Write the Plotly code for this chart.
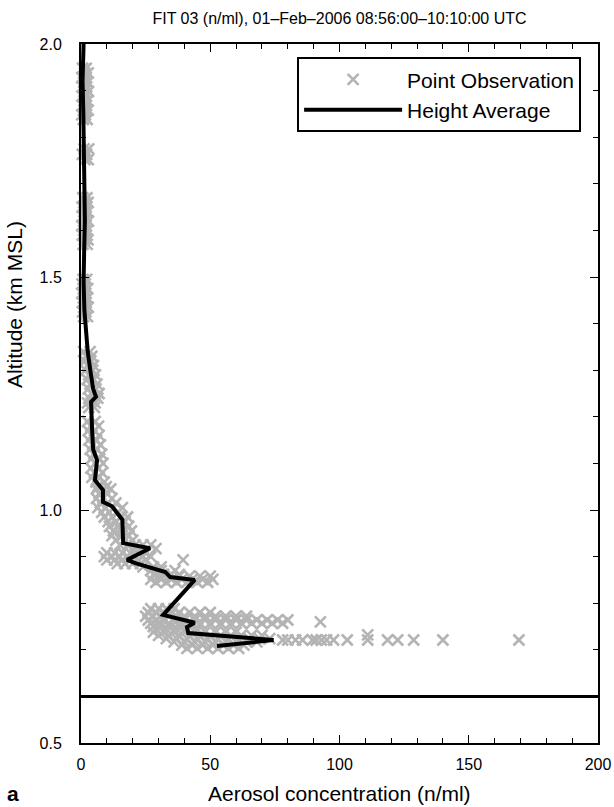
import plotly.graph_objects as go

# ---------------- data ----------------
title_text = "FIT 03 (n/ml), 01\u2013Feb\u20132006 08:56:00\u201310:10:00 UTC"
x_title = "Aerosol concentration (n/ml)"
y_title = "Altitude (km MSL)"
panel_label = "a"

x_ticks = [0, 50, 100, 150, 200]
y_ticks = [0.5, 1.0, 1.5, 2.0]
y_tick_labels = ["0.5", "1.0", "1.5", "2.0"]

surface_altitude = 0.6  # horizontal reference line (km)

# Height-averaged profile
avg_conc = [1.0, 0.6, 0.9, 1.3, 1.5, 1.2, 1.0, 1.3, 1.9, 2.6, 3.6, 4.7, 5.8, 3.9,
            4.3, 4.7, 6.2, 5.4, 8.5, 8.5, 12.0, 16.0, 16.3, 26.7, 17.8, 21.0,
            32.6, 34.5, 44.0, 31.8, 44.0, 41.0, 41.5, 74.5, 52.6]
avg_alt = [2.0, 1.92, 1.85, 1.72, 1.62, 1.55, 1.49, 1.43, 1.38, 1.34, 1.30, 1.26,
           1.243, 1.232, 1.17, 1.13, 1.107, 1.064, 1.043, 1.017, 1.008, 0.979,
           0.929, 0.918, 0.893, 0.886, 0.867, 0.856, 0.850, 0.775, 0.758, 0.749,
           0.736, 0.721, 0.708]

# Point observations, grouped by altitude rows: (altitude km, [concentrations])
obs_rows_upper = [
    (1.948, [0.6, 2.0]), (1.938, [1.4, 2.8]), (1.928, [0.3, 1.9]), (1.918, [1.0, 2.6]),
    (1.908, [0.5, 2.2]), (1.898, [1.3, 2.9]), (1.888, [0.4, 1.8]), (1.878, [1.1, 2.5]),
    (1.868, [0.6, 2.1]), (1.858, [1.4, 2.8]), (1.848, [0.3, 1.7]), (1.838, [0.9, 2.4]),
    (1.775, [1.2, 3.0]), (1.763, [0.5, 2.2]), (1.752, [1.5, 2.8]),
    (1.670, [0.7, 2.3]), (1.660, [1.5, 2.8]), (1.650, [0.4, 1.9]), (1.640, [1.1, 2.6]),
    (1.630, [0.6, 2.0]), (1.620, [1.4, 2.9]), (1.610, [0.3, 1.7]), (1.600, [1.0, 2.5]),
    (1.590, [0.5, 2.1]), (1.580, [1.3, 2.7]), (1.570, [0.8, 2.4]),
    (1.495, [0.8, 2.2]), (1.485, [0.4, 1.6]), (1.475, [1.2, 2.6]), (1.465, [0.3, 1.8]),
    (1.455, [0.9, 2.4]), (1.445, [0.5, 2.0]), (1.435, [1.3, 2.8]), (1.425, [0.6, 1.9]),
    (1.415, [1.0, 2.5]),
]
obs_rows_middle = [
    (1.340, [1.0, 3.5]), (1.330, [2.0, 4.2]), (1.320, [1.5, 3.8]), (1.310, [2.6, 4.8]),
    (1.300, [1.8, 4.5]), (1.290, [3.0, 5.6]), (1.280, [2.4, 5.0]), (1.270, [3.5, 6.2]),
    (1.260, [2.8, 5.8]), (1.250, [4.0, 7.0]), (1.240, [3.2, 6.5]), (1.230, [2.5, 5.5]),
    (1.220, [3.0, 5.2]),
    (1.190, [2.5, 5.5]), (1.180, [3.8, 6.8]), (1.170, [2.8, 5.2]), (1.160, [4.2, 7.0]),
    (1.150, [3.0, 6.0]), (1.140, [4.5, 7.5]), (1.130, [3.5, 6.2]), (1.120, [5.0, 8.0]),
    (1.110, [4.0, 7.2]), (1.100, [5.5, 8.5]), (1.090, [3.8, 6.8]), (1.080, [5.2, 8.2]),
    (1.070, [4.2, 7.0]), (1.060, [5.8, 9.0]), (1.050, [6.5, 9.8]),
    (1.045, [6.0, 9.0, 11.5]), (1.035, [7.0, 10.0]), (1.025, [6.0, 8.5, 12.0]),
    (1.015, [7.5, 10.5, 13.5]), (1.005, [6.5, 9.5, 12.5, 16.0]),
    (0.995, [8.0, 11.0, 14.5]), (0.985, [9.0, 12.0, 15.5, 18.0]),
    (0.975, [10.5, 13.5, 17.0]), (0.965, [11.0, 14.0, 18.5]),
    (0.955, [12.5, 15.5, 19.5]), (0.945, [12.0, 16.0, 18.5]),
    (0.935, [13.5, 17.0, 20.0]), (0.925, [15.0, 18.0, 21.0, 24.0, 27.0]),
    (0.917, [22.0, 29.0]),
]
obs_rows_lower = [
    (0.908, [10, 13, 16, 19, 22, 25]),
    (0.900, [9, 12, 15, 18, 21, 24, 27]),
    (0.893, [10, 13, 16, 19, 22, 25, 39.5]),
    (0.885, [14, 17, 20, 23]),
    (0.878, [24, 28, 31]),
    (0.870, [27, 31, 36.4]),
    (0.862, [28, 32, 35, 38]),
    (0.858, [30, 34, 38, 42, 46, 50]),
    (0.851, [27, 31, 35, 39, 43, 47, 51]),
    (0.845, [29, 33, 37, 41, 45, 49]),
    (0.788, [27, 30, 33, 36]),
    (0.780, [26, 29, 32, 35, 38, 42, 46, 50]),
    (0.772, [25, 28, 31, 34, 37, 40, 44, 48, 52, 56, 60, 64]),
    (0.764, [26, 29, 32, 36, 40, 44, 48, 52, 56, 60, 64, 68, 72, 76, 80]),
    (0.760, [92.6]),
    (0.757, [27, 30, 34, 38, 42, 46, 50, 54, 58, 62, 66, 70, 74, 78]),
    (0.750, [28, 31, 35, 39]),
    (0.745, [29, 33, 37, 41, 45]),
    (0.738, [28, 32, 36, 40, 44, 48, 52, 56, 60]),
    (0.732, [110.9]),
    (0.731, [30, 34, 38, 42, 46, 50, 54, 58, 62, 66, 70]),
    (0.724, [33, 37, 41, 45, 49, 53, 57, 61, 65, 69, 73]),
    (0.721, [78, 80, 83, 85.7, 89.5, 91, 93, 95, 97.7, 103, 110.9, 118.6, 122.5,
             128.7, 140, 169.4]),
    (0.717, [36, 40, 44, 48, 52, 56, 60, 64, 68]),
    (0.710, [39, 43, 47, 51, 55, 59, 63]),
    (0.703, [41, 45, 49, 53, 57, 61]),
]

obs_conc, obs_alt = [], []
for rows in (obs_rows_upper, obs_rows_middle, obs_rows_lower):
    for alt, concs in rows:
        for c in concs:
            obs_conc.append(c)
            obs_alt.append(alt)

# ---------------- figure ----------------
FONT = "Liberation Sans, Arial, Helvetica, sans-serif"
GRAY = "#b4b4b4"

fig = go.Figure()
fig.add_trace(go.Scatter(
    x=obs_conc, y=obs_alt, mode="markers", name="Point Observation",
    marker=dict(symbol="x-thin", size=11, line=dict(color=GRAY, width=2.6), color=GRAY),
    cliponaxis=False,
))
fig.add_trace(go.Scatter(
    x=avg_conc, y=avg_alt, mode="lines", name="Height Average",
    line=dict(color="black", width=4),
))

fig.add_shape(type="line", xref="paper", x0=0, x1=1, yref="y",
              y0=surface_altitude, y1=surface_altitude,
              line=dict(color="black", width=3))

axis_common = dict(
    showgrid=False, zeroline=False, showline=True, linecolor="black", linewidth=2,
    mirror="allticks", ticks="inside", ticklen=8, tickwidth=1, tickcolor="black",
    tickfont=dict(family=FONT, size=16, color="black"),
)
fig.update_xaxes(range=[0, 200], tickvals=x_ticks, ticktext=[str(v) for v in x_ticks],
                 minor=dict(dtick=10, ticks="inside", ticklen=5, tickcolor="black"),
                 ticklabelstandoff=6, **axis_common)
fig.update_yaxes(range=[0.5, 2.0], tickvals=y_ticks, ticktext=y_tick_labels,
                 minor=dict(dtick=0.1, ticks="inside", ticklen=5, tickcolor="black"),
                 ticklabelstandoff=14, **axis_common)

fig.update_layout(
    width=614, height=807,
    margin=dict(l=81, r=16, t=44, b=64, autoexpand=False),
    paper_bgcolor="white", plot_bgcolor="white",
    font=dict(family=FONT, color="black"),
    title=dict(text=title_text, x=0.5, xref="paper", y=1 - 18 / 807, yref="container",
               xanchor="center", yanchor="middle",
               font=dict(family=FONT, size=16, color="black")),
    showlegend=True,
    legend=dict(x=0.418, y=0.981, xanchor="left", yanchor="top",
                bgcolor="white", bordercolor="black", borderwidth=2,
                font=dict(family=FONT, size=21, color="black"),
                itemwidth=98, tracegroupgap=0),
    annotations=[
        dict(text=x_title, xref="paper", yref="paper", x=0.5, y=-(793 - 743) / 699,
             xanchor="center", yanchor="middle", showarrow=False,
             font=dict(family=FONT, size=21, color="black")),
        dict(text=y_title, xref="paper", yref="paper", x=-(81 - 14) / 517,
             y=(743 - 305) / 699,
             xanchor="center", yanchor="middle", showarrow=False, textangle=-90,
             font=dict(family=FONT, size=21, color="black")),
        dict(text="<b>" + panel_label + "</b>", xref="paper", yref="paper",
             x=-(81 - 13) / 517, y=-(793 - 743) / 699,
             xanchor="center", yanchor="middle", showarrow=False,
             font=dict(family=FONT, size=21, color="black")),
    ],
)

fig.write_html("out.html", config={"displayModeBar": False},
               post_script="document.body.style.margin='0';document.body.style.padding='0';")
